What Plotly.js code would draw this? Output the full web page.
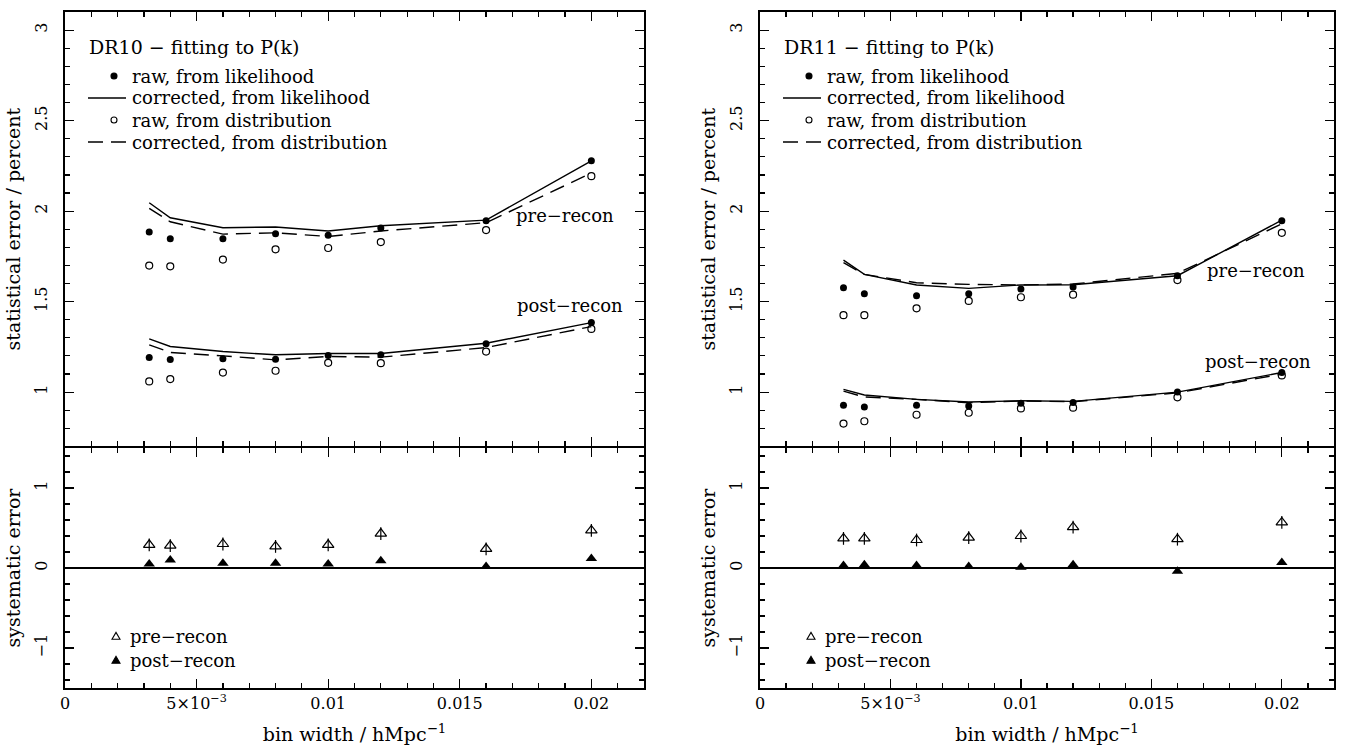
<!DOCTYPE html>
<html>
<head>
<meta charset="utf-8">
<script src="https://cdn.plot.ly/plotly-3.0.1.min.js"></script>
<style>html,body{margin:0;padding:0;background:#fff;}#chart{width:1346px;height:755px;}</style>
</head>
<body>
<div id="chart"></div>
<script>
// ---- data ----
const binWidth = [0.0032, 0.004, 0.006, 0.008, 0.010, 0.012, 0.016, 0.020];

// DR10, statistical error / percent
const dr10PreRawLik   = [1.884, 1.847, 1.847, 1.875, 1.866, 1.906, 1.947, 2.278];
const dr10PreCorrLik  = [2.046, 1.963, 1.908, 1.912, 1.890, 1.919, 1.950, 2.278];
const dr10PreRawDist  = [1.699, 1.695, 1.732, 1.789, 1.796, 1.829, 1.895, 2.193];
const dr10PreCorrDist = [2.015, 1.941, 1.873, 1.880, 1.860, 1.890, 1.936, 2.210];
const dr10PostRawLik   = [1.191, 1.180, 1.184, 1.182, 1.202, 1.206, 1.267, 1.384];
const dr10PostCorrLik  = [1.294, 1.252, 1.224, 1.206, 1.213, 1.213, 1.270, 1.384];
const dr10PostRawDist  = [1.059, 1.072, 1.108, 1.118, 1.162, 1.160, 1.224, 1.349];
const dr10PostCorrDist = [1.261, 1.219, 1.200, 1.178, 1.197, 1.193, 1.246, 1.362];
// DR10, systematic error
const dr10SysPre    = [0.29, 0.28, 0.30, 0.27, 0.29, 0.43, 0.24, 0.47];
const dr10SysPreErr = [0.08, 0.08, 0.08, 0.08, 0.08, 0.08, 0.08, 0.08];
const dr10SysPost   = [0.05, 0.10, 0.06, 0.06, 0.05, 0.09, 0.02, 0.12];

// DR11, statistical error / percent
const dr11PreRawLik   = [1.577, 1.544, 1.533, 1.544, 1.570, 1.581, 1.643, 1.947];
const dr11PreCorrLik  = [1.729, 1.650, 1.592, 1.573, 1.592, 1.593, 1.643, 1.950];
const dr11PreRawDist  = [1.425, 1.425, 1.463, 1.504, 1.524, 1.538, 1.619, 1.880];
const dr11PreCorrDist = [1.715, 1.650, 1.604, 1.595, 1.592, 1.597, 1.656, 1.930];
const dr11PostRawLik   = [0.927, 0.918, 0.927, 0.923, 0.938, 0.943, 1.000, 1.108];
const dr11PostCorrLik  = [1.015, 0.984, 0.960, 0.945, 0.952, 0.949, 1.000, 1.108];
const dr11PostRawDist  = [0.826, 0.839, 0.875, 0.886, 0.910, 0.914, 0.971, 1.092];
const dr11PostCorrDist = [1.005, 0.973, 0.960, 0.941, 0.951, 0.947, 0.996, 1.100];
// DR11, systematic error
const dr11SysPre    = [0.37, 0.37, 0.35, 0.38, 0.40, 0.51, 0.36, 0.57];
const dr11SysPreErr = [0.08, 0.08, 0.08, 0.08, 0.08, 0.08, 0.08, 0.08];
const dr11SysPost   = [0.03, 0.04, 0.03, 0.02, 0.01, 0.04, -0.04, 0.07];

const xTickVals = [0, 0.005, 0.01, 0.015, 0.02];
const xTickText = ['0', '5×10<sup>−3</sup>', '0.01', '0.015', '0.02'];
const statTickVals = [1, 1.5, 2, 2.5, 3];
const statTickText = ['1', '1.5', '2', '2.5', '3'];
const sysTickVals = [-1, 0, 1];
const sysTickText = ['−1', '0', '1'];
const panelTitles = ['DR10 − fitting to P(k)', 'DR11 − fitting to P(k)'];
const legendNames = ['raw, from likelihood', 'corrected, from likelihood', 'raw, from distribution', 'corrected, from distribution'];
const sysNames = ['pre−recon', 'post−recon'];

// ---- styling ----
const FONT = 'DejaVu Serif, Liberation Serif, serif';
const BLACK = '#000';
const DASH = '15px,8px';
const LW = 1.4;
const FRAME = 1.6;

function statTraces(xa, ya, preRL, preCL, preRD, preCD, postRL, postCL, postRD, postCD) {
  const t = [];
  [[preRL, preCL, preRD, preCD, 'pre'], [postRL, postCL, postRD, postCD, 'post']].forEach(([rl, cl, rd, cd, g]) => {
    t.push({x: binWidth, y: cl, xaxis: xa, yaxis: ya, mode: 'lines', type: 'scatter',
      name: legendNames[1] + ' (' + g + ')', line: {color: BLACK, width: LW}});
    t.push({x: binWidth, y: cd, xaxis: xa, yaxis: ya, mode: 'lines', type: 'scatter',
      name: legendNames[3] + ' (' + g + ')', line: {color: BLACK, width: LW, dash: DASH}});
    t.push({x: binWidth, y: rl, xaxis: xa, yaxis: ya, mode: 'markers', type: 'scatter',
      name: legendNames[0] + ' (' + g + ')', marker: {symbol: 'circle', size: 7, color: BLACK}});
    t.push({x: binWidth, y: rd, xaxis: xa, yaxis: ya, mode: 'markers', type: 'scatter',
      name: legendNames[2] + ' (' + g + ')',
      marker: {symbol: 'circle-open', size: 7, color: BLACK, line: {width: 1.2, color: BLACK}}});
  });
  return t;
}

function sysTraces(xa, ya, pre, preErr, post) {
  return [
    {x: binWidth, y: pre, xaxis: xa, yaxis: ya, mode: 'markers', type: 'scatter', name: sysNames[0],
      error_y: {type: 'data', array: preErr, visible: true, color: BLACK, thickness: 1.2, width: 0},
      marker: {symbol: 'triangle-up-open', size: 10, color: BLACK, line: {width: 1.2, color: BLACK}}},
    {x: binWidth, y: post, xaxis: xa, yaxis: ya, mode: 'markers', type: 'scatter', name: sysNames[1],
      marker: {symbol: 'triangle-up', size: 10, color: BLACK}}
  ];
}

const data = [].concat(
  statTraces('x3', 'y3', dr10PreRawLik, dr10PreCorrLik, dr10PreRawDist, dr10PreCorrDist,
             dr10PostRawLik, dr10PostCorrLik, dr10PostRawDist, dr10PostCorrDist),
  statTraces('x4', 'y4', dr11PreRawLik, dr11PreCorrLik, dr11PreRawDist, dr11PreCorrDist,
             dr11PostRawLik, dr11PostCorrLik, dr11PostRawDist, dr11PostCorrDist),
  sysTraces('x', 'y', dr10SysPre, dr10SysPreErr, dr10SysPost),
  sysTraces('x2', 'y2', dr11SysPre, dr11SysPreErr, dr11SysPost)
);

const W = 1346, H = 755;
const M = {l: 65, r: 12, t: 12, b: 67};
const PW = W - M.l - M.r, PH = H - M.t - M.b;
const fx = px => (px - M.l) / PW;
const fy = py => (H - M.b - py) / PH;
const leftDom = [0, fx(644)];
const rightDom = [fx(760), 1];
const botDom = [0, 240 / PH];
const topDom = [(240 + FRAME) / PH, 1];

function xAxis(dom, anchor, showLabels, match) {
  const a = {
    domain: dom, anchor: anchor, range: [0, 0.022], showgrid: false, zeroline: false,
    showline: true, linecolor: BLACK, linewidth: FRAME, mirror: 'allticks',
    ticks: 'inside', ticklen: 9, tickwidth: 1.2, tickcolor: BLACK,
    tickmode: 'array', tickvals: xTickVals, ticktext: xTickText, showticklabels: showLabels,
    minor: {ticks: 'inside', ticklen: 5, tickwidth: 1.2, tickcolor: BLACK, dtick: 0.001, tick0: 0, showgrid: false},
    tickfont: {family: FONT, size: 16, color: BLACK}
  };
  if (showLabels) {
    a.title = {text: 'bin width / hMpc<sup>−1</sup>', font: {family: FONT, size: 19, color: BLACK}, standoff: 16};
  }
  if (match) a.matches = match;
  return a;
}
function yAxis(dom, anchor, range, vals, text, minorDt, title, zero) {
  return {
    domain: dom, anchor: anchor, range: range, showgrid: false,
    zeroline: zero, zerolinecolor: BLACK, zerolinewidth: 1.5,
    showline: true, linecolor: BLACK, linewidth: FRAME, mirror: 'allticks',
    ticks: 'inside', ticklen: 9, tickwidth: 1.2, tickcolor: BLACK,
    tickmode: 'array', tickvals: vals, ticktext: text, tickangle: -90, ticklabelstandoff: 10,
    minor: {ticks: 'inside', ticklen: 5, tickwidth: 1.2, tickcolor: BLACK, dtick: minorDt, tick0: 0, showgrid: false},
    tickfont: {family: FONT, size: 16, color: BLACK},
    title: {text: title, font: {family: FONT, size: 19, color: BLACK}, standoff: 6}
  };
}

// ---- legend drawn as text + sample glyphs (paper coords, pixel-sized) ----
const LEG_FONT = {family: FONT, size: 18, color: BLACK};
const annotations = [];
const shapes = [];
function legText(px, py, text, size) {
  annotations.push({xref: 'paper', yref: 'paper', x: fx(px), y: fy(py), xanchor: 'left', yanchor: 'middle',
    text: text, showarrow: false, borderpad: 0,
    font: size ? {family: FONT, size: size, color: BLACK} : LEG_FONT});
}
function legLine(px0, px1, py, dash) {
  shapes.push({type: 'line', xref: 'paper', yref: 'paper', xsizemode: 'pixel', ysizemode: 'pixel',
    xanchor: fx(px0), yanchor: fy(py), x0: 0, x1: px1 - px0, y0: 0, y1: 0,
    line: {color: BLACK, width: LW, dash: dash || 'solid'}});
}
function legDot(px, py, r, filled) {
  shapes.push({type: 'circle', xref: 'paper', yref: 'paper', xsizemode: 'pixel', ysizemode: 'pixel',
    xanchor: fx(px), yanchor: fy(py), x0: -r, x1: r, y0: -r, y1: r,
    fillcolor: filled ? BLACK : 'rgba(0,0,0,0)', line: {color: BLACK, width: 1.1}});
}
function legTri(px, py, s, filled) {
  shapes.push({type: 'path', xref: 'paper', yref: 'paper', xsizemode: 'pixel', ysizemode: 'pixel',
    xanchor: fx(px), yanchor: fy(py),
    path: 'M ' + (-s) + ' ' + (-0.8 * s) + ' L ' + s + ' ' + (-0.8 * s) + ' L 0 ' + (0.9 * s) + ' Z',
    fillcolor: filled ? BLACK : 'rgba(0,0,0,0)', line: {color: BLACK, width: 1.1}});
}

[0, 695].forEach((off, i) => {
  legText(88 + off, 47, panelTitles[i], 19);
  const rows = [76, 98, 120, 142];
  legDot(114 + off, rows[0], 3, true);
  legLine(88 + off, 126 + off, rows[1]);
  legDot(114 + off, rows[2], 3, false);
  legLine(88 + off, 126 + off, rows[3], DASH);
  legendNames.forEach((n, k) => legText(131 + off, rows[k], n));
  legTri(116 + off, 636, 4, false);
  legTri(116 + off, 660, 4, true);
  legText(129 + off, 636, sysNames[0]);
  legText(129 + off, 660, sysNames[1]);
});

const annFont = {family: FONT, size: 18, color: BLACK};
annotations.push(
  {xref: 'x3', yref: 'y3', x: 0.0190, y: 1.978, text: 'pre−recon', showarrow: false, font: annFont},
  {xref: 'x3', yref: 'y3', x: 0.0192, y: 1.478, text: 'post−recon', showarrow: false, font: annFont},
  {xref: 'x4', yref: 'y4', x: 0.0190, y: 1.670, text: 'pre−recon', showarrow: false, font: annFont},
  {xref: 'x4', yref: 'y4', x: 0.0191, y: 1.170, text: 'post−recon', showarrow: false, font: annFont}
);

const layout = {
  width: W, height: H, margin: M, paper_bgcolor: '#fff', plot_bgcolor: '#fff',
  showlegend: false,
  xaxis: xAxis(leftDom, 'y', true, null),
  xaxis2: xAxis(rightDom, 'y2', true, null),
  xaxis3: xAxis(leftDom, 'y3', false, 'x'),
  xaxis4: xAxis(rightDom, 'y4', false, 'x2'),
  yaxis: yAxis(botDom, 'x', [-1.5, 1.5], sysTickVals, sysTickText, 0.2, 'systematic error', true),
  yaxis2: yAxis(botDom, 'x2', [-1.5, 1.5], sysTickVals, sysTickText, 0.2, 'systematic error', true),
  yaxis3: yAxis(topDom, 'x3', [0.7, 3.1], statTickVals, statTickText, 0.1, 'statistical error / percent', false),
  yaxis4: yAxis(topDom, 'x4', [0.7, 3.1], statTickVals, statTickText, 0.1, 'statistical error / percent', false),
  annotations: annotations,
  shapes: shapes
};

Plotly.newPlot('chart', data, layout, {staticPlot: true, displayModeBar: false});
</script>
</body>
</html>
